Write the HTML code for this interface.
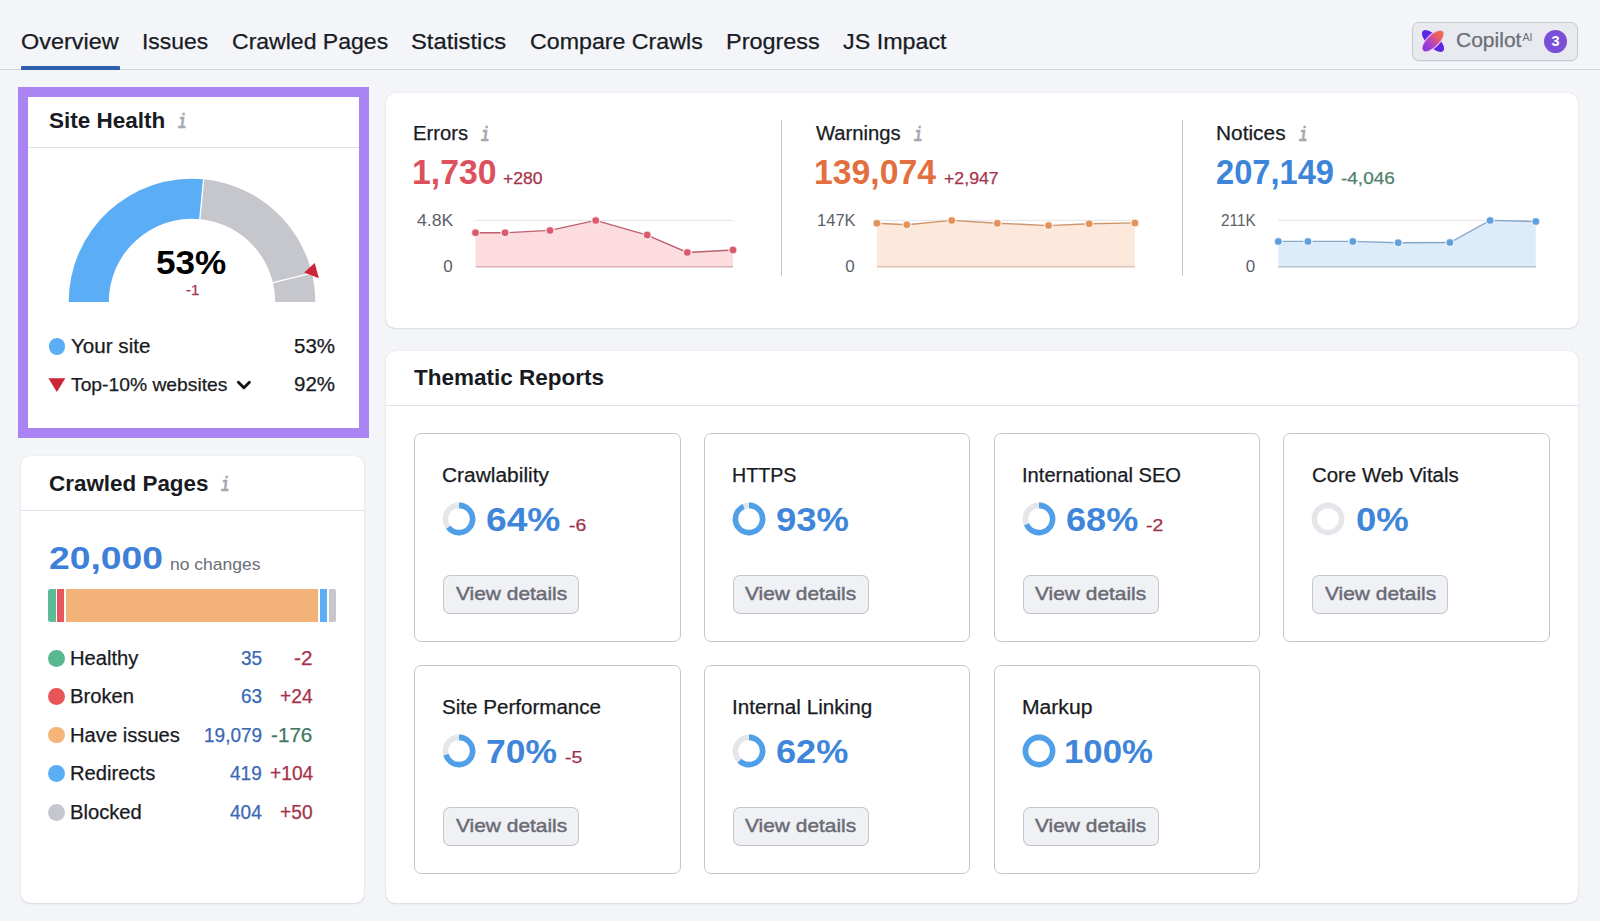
<!DOCTYPE html>
<html lang="en"><head><meta charset="utf-8"><title>Site Audit Overview</title>
<style>
html,body{margin:0;padding:0}
body{width:1600px;height:921px;overflow:hidden;position:relative;background:#f4f5f9;font-family:"Liberation Sans",sans-serif;}
.t{position:absolute;white-space:nowrap;line-height:1;transform-origin:0 50%;}
.s{-webkit-text-stroke:0.25px currentColor}.m{-webkit-text-stroke:0.45px currentColor}
.i{-webkit-text-stroke:0.5px currentColor}
.i{font-family:"Liberation Mono","DejaVu Sans Mono",monospace;font-style:italic;font-size:20px;color:#a6a8b0;font-weight:700;transform:scaleX(.7)}
.card{background:#fff;border-radius:9px;box-shadow:0 0 1px rgba(25,27,35,.18),0 1px 2px rgba(25,27,35,.10);}
</style></head><body>
<nav>
<span class="t s" style="top:31px;font-size:22.6px;color:#191b23;left:20.60px;transform:scaleX(1.0363);">Overview</span>
<span class="t s" style="top:31px;font-size:22.6px;color:#191b23;left:141.60px;transform:scaleX(1.0135);">Issues</span>
<span class="t s" style="top:31px;font-size:22.6px;color:#191b23;left:231.60px;transform:scaleX(1.0192);">Crawled Pages</span>
<span class="t s" style="top:31px;font-size:22.6px;color:#191b23;left:411.40px;transform:scaleX(1.0528);">Statistics</span>
<span class="t s" style="top:31px;font-size:22.6px;color:#191b23;left:530.00px;transform:scaleX(1.0268);">Compare Crawls</span>
<span class="t s" style="top:31px;font-size:22.6px;color:#191b23;left:725.80px;transform:scaleX(1.0372);">Progress</span>
<span class="t s" style="top:31px;font-size:22.6px;color:#191b23;left:843.00px;transform:scaleX(1.0311);">JS Impact</span>
<div class="" style="position:absolute;left:0.00px;top:69.10px;width:1600.00px;height:1.00px;background:#d1d3d9;"></div>
<div class="" style="position:absolute;left:20.80px;top:66.30px;width:99.20px;height:3.80px;background:#2d5fae;border-radius:1px 1px 0 0;"></div>
<div class="" style="position:absolute;left:1411.50px;top:22.00px;width:166.50px;height:38.50px;box-sizing:border-box;background:#e9eaef;border:1px solid #c6c9d1;border-radius:7px;box-shadow:0 1px 1px rgba(0,0,0,.05);"></div>
<svg style="position:absolute;left:1418.4px;top:26.1px" width="30" height="30" viewBox="-15 -15 30 30">
<defs><linearGradient id="cg" x1="0" y1="0" x2="1" y2="0"><stop offset="0" stop-color="#7a38e2"/><stop offset=".3" stop-color="#a33fd0"/><stop offset=".55" stop-color="#d04aa0"/><stop offset=".8" stop-color="#ee6450"/><stop offset="1" stop-color="#f06a4a"/></linearGradient></defs>
<ellipse rx="14.3" ry="6.1" transform="rotate(44.5)" fill="#5e27e6"/>
<ellipse rx="14.2" ry="6.7" transform="rotate(-44.5)" fill="#f3c4ee"/>
<ellipse rx="13.4" ry="5.7" transform="rotate(-44.5)" fill="url(#cg)"/>
</svg>
<span class="t s" style="top:30px;font-size:20px;color:#6c6e79;left:1455.60px;transform:scaleX(1.0505);">Copilot</span>
<span class="t " style="top:32px;font-size:10.5px;color:#6c6e79;left:1522.60px;">AI</span>
<div class="" style="position:absolute;left:1544.00px;top:29.80px;width:23.00px;height:23.00px;border-radius:50%;background:#7a4fd6;"></div>
<span class="t " style="top:34px;font-size:14.5px;color:#fff;font-weight:700;left:1551.57px;">3</span>
</nav>
<section>
<div class="" style="position:absolute;left:18.00px;top:87.20px;width:351.00px;height:350.40px;box-sizing:border-box;border:10px solid #ab84f4;background:#fff;"></div>
<span class="t " style="top:110px;font-size:22.5px;color:#191b23;font-weight:700;left:48.75px;transform:scaleX(1.0002);">Site Health</span>
<span class="t i" style="left:178.3px;top:113.00px">i</span>
<div class="" style="position:absolute;left:28.00px;top:146.60px;width:331.00px;height:1.00px;background:#e0e1e9;"></div>
<svg style="position:absolute;left:0;top:0" width="400" height="440" viewBox="0 0 400 440"><path d="M68.70 302.00A123.3 123.3 0 0 1 203.60 179.25L199.83 219.17A83.2 83.2 0 0 0 108.80 302.00Z" fill="#5baef5"/><path d="M203.60 179.25A123.3 123.3 0 0 1 315.30 302.00L275.20 302.00A83.2 83.2 0 0 0 199.83 219.17Z" fill="#c5c7cd"/><line x1="199.74" y1="220.16" x2="203.70" y2="178.25" stroke="#fff" stroke-width="1.3"/><line x1="271.93" y1="282.81" x2="312.87" y2="272.98" stroke="#fff" stroke-width="1.3"/><polygon points="304.2,272.6 314.7,262.9 318.9,278.2" fill="#cb2539"/><polygon points="48.4,378.2 65.3,378.2 56.85,392" fill="#cb2539"/><polyline points="238.4,382.2 243.9,387.7 249.4,382.2" fill="none" stroke="#111" stroke-width="2.9" stroke-linecap="round" stroke-linejoin="round"/></svg>
<span class="t " style="top:246px;font-size:33px;color:#000;font-weight:700;left:156.15px;transform:scaleX(1.0644);">53%</span>
<span class="t s" style="top:282px;font-size:15px;color:#a63349;left:185.93px;">-1</span>
<div class="" style="position:absolute;left:48.50px;top:338.40px;width:16.80px;height:16.80px;border-radius:50%;background:#5baef5;"></div>
<span class="t s" style="top:337px;font-size:19.5px;color:#191b23;left:71.20px;transform:scaleX(1.0564);">Your site</span>
<span class="t s" style="top:337px;font-size:19.5px;color:#191b23;left:293.80px;transform:scaleX(1.0505);">53%</span>
<span class="t s" style="top:375px;font-size:19px;color:#191b23;left:71.20px;transform:scaleX(1.0143);">Top-10% websites</span>
<span class="t s" style="top:375px;font-size:19.5px;color:#191b23;left:293.80px;transform:scaleX(1.0505);">92%</span>
</section>
<section>
<div class="card" style="position:absolute;left:21.00px;top:455.60px;width:342.50px;height:447.30px;"></div>
<span class="t " style="top:473px;font-size:22px;color:#191b23;font-weight:700;left:49.00px;transform:scaleX(1.0191);">Crawled Pages</span>
<span class="t i" style="left:220.8px;top:476.20px">i</span>
<div class="" style="position:absolute;left:21.00px;top:510.00px;width:342.50px;height:1.00px;background:#e0e1e9;"></div>
<span class="t " style="top:542px;font-size:32px;color:#3d80d8;font-weight:700;left:49.00px;transform:scaleX(1.1647);">20,000</span>
<span class="t " style="top:556px;font-size:17px;color:#6c6e79;left:170.00px;transform:scaleX(1.0307);">no changes</span>
<div class="" style="position:absolute;left:48.40px;top:589.00px;width:7.20px;height:33.00px;background:#5abc98;border-radius:2.5px 0 0 2.5px;"></div>
<div class="" style="position:absolute;left:57.40px;top:589.00px;width:6.50px;height:33.00px;background:#e6565c;"></div>
<div class="" style="position:absolute;left:65.80px;top:589.00px;width:252.50px;height:33.00px;background:#f3b378;"></div>
<div class="" style="position:absolute;left:320.30px;top:589.00px;width:6.80px;height:33.00px;background:#5baef5;"></div>
<div class="" style="position:absolute;left:328.90px;top:589.00px;width:7.00px;height:33.00px;background:#c5c7cd;border-radius:0 1.5px 1.5px 0;"></div>
<div class="" style="position:absolute;left:48.40px;top:650.00px;width:16.80px;height:16.80px;border-radius:50%;background:#58b890;"></div>
<span class="t s" style="top:649px;font-size:19.5px;color:#191b23;left:70.40px;transform:scaleX(1.0350);">Healthy</span>
<span class="t s" style="top:649px;font-size:19.5px;color:#3a68b4;left:240.75px;transform:scaleX(0.9750);">35</span>
<span class="t s" style="top:649px;font-size:19.5px;color:#a63349;left:294.42px;transform:scaleX(1.0600);">-2</span>
<div class="" style="position:absolute;left:48.40px;top:687.90px;width:16.80px;height:16.80px;border-radius:50%;background:#e85558;"></div>
<span class="t s" style="top:687px;font-size:19.5px;color:#191b23;left:70.40px;transform:scaleX(1.0350);">Broken</span>
<span class="t s" style="top:687px;font-size:19.5px;color:#3a68b4;left:240.75px;transform:scaleX(0.9750);">63</span>
<span class="t s" style="top:687px;font-size:19.5px;color:#a63349;left:280.22px;transform:scaleX(0.9850);">+24</span>
<div class="" style="position:absolute;left:48.40px;top:726.50px;width:16.80px;height:16.80px;border-radius:50%;background:#f5b478;"></div>
<span class="t s" style="top:726px;font-size:19.5px;color:#191b23;left:70.40px;transform:scaleX(1.0350);">Have issues</span>
<span class="t s" style="top:726px;font-size:19.5px;color:#3a68b4;left:203.75px;transform:scaleX(0.9750);">19,079</span>
<span class="t s" style="top:726px;font-size:19.5px;color:#41795f;left:271.43px;transform:scaleX(1.0600);">-176</span>
<div class="" style="position:absolute;left:48.40px;top:765.00px;width:16.80px;height:16.80px;border-radius:50%;background:#5baef5;"></div>
<span class="t s" style="top:764px;font-size:19.5px;color:#191b23;left:70.40px;transform:scaleX(1.0350);">Redirects</span>
<span class="t s" style="top:764px;font-size:19.5px;color:#3a68b4;left:230.18px;transform:scaleX(0.9750);">419</span>
<span class="t s" style="top:764px;font-size:19.5px;color:#a63349;left:269.54px;transform:scaleX(0.9850);">+104</span>
<div class="" style="position:absolute;left:48.40px;top:803.90px;width:16.80px;height:16.80px;border-radius:50%;background:#c5c7cd;"></div>
<span class="t s" style="top:803px;font-size:19.5px;color:#191b23;left:70.40px;transform:scaleX(1.0350);">Blocked</span>
<span class="t s" style="top:803px;font-size:19.5px;color:#3a68b4;left:230.18px;transform:scaleX(0.9750);">404</span>
<span class="t s" style="top:803px;font-size:19.5px;color:#a63349;left:280.22px;transform:scaleX(0.9850);">+50</span>
</section>
<section>
<div class="card" style="position:absolute;left:386.00px;top:93.30px;width:1192.00px;height:234.70px;"></div>
<div class="" style="position:absolute;left:781.00px;top:120.40px;width:1.00px;height:155.60px;background:#c4c7cf;"></div>
<div class="" style="position:absolute;left:1182.30px;top:120.40px;width:1.00px;height:155.60px;background:#c4c7cf;"></div>
<span class="t s" style="top:124px;font-size:19.6px;color:#191b23;left:413.30px;transform:scaleX(1.0308);">Errors</span>
<span class="t i" style="left:481.0px;top:125.60px">i</span>
<span class="t " style="top:154px;font-size:35px;color:#dd515c;font-weight:700;left:412.20px;transform:scaleX(0.9648);">1,730</span>
<span class="t s" style="top:170px;font-size:16.5px;color:#a63349;left:503.20px;transform:scaleX(1.0655);">+280</span>
<span class="t " style="top:212px;font-size:17px;color:#5d5f6a;left:416.70px;transform:scaleX(1.0409);">4.8K</span>
<span class="t " style="top:258px;font-size:17px;color:#5d5f6a;left:443.35px;">0</span>
<svg style="position:absolute;left:0;top:200px" width="1600" height="90" viewBox="0 200 1600 90"><line x1="475.5" y1="220.4" x2="733" y2="220.4" stroke="#e3e4ea" stroke-width="1"/><polygon points="475.5,266.8 475.5,232.8 505.1,232.8 550.0,230.4 595.7,220.4 647.2,235.1 687.3,252.5 733.0,250.0 733,266.8" fill="#fcdcde"/><line x1="475.5" y1="266.7" x2="733" y2="266.7" stroke="#d9b0b6" stroke-width="1.4"/><polyline points="475.5,232.8 505.1,232.8 550.0,230.4 595.7,220.4 647.2,235.1 687.3,252.5 733.0,250.0" fill="none" stroke="#bd5f6e" stroke-width="1.4"/><circle cx="475.5" cy="232.8" r="4" fill="#da5b6d" stroke="#fff" stroke-opacity=".7" stroke-width="1.5"/><circle cx="505.1" cy="232.8" r="4" fill="#da5b6d" stroke="#fff" stroke-opacity=".7" stroke-width="1.5"/><circle cx="550" cy="230.4" r="4" fill="#da5b6d" stroke="#fff" stroke-opacity=".7" stroke-width="1.5"/><circle cx="595.7" cy="220.4" r="4" fill="#da5b6d" stroke="#fff" stroke-opacity=".7" stroke-width="1.5"/><circle cx="647.2" cy="235.1" r="4" fill="#da5b6d" stroke="#fff" stroke-opacity=".7" stroke-width="1.5"/><circle cx="687.3" cy="252.5" r="4" fill="#da5b6d" stroke="#fff" stroke-opacity=".7" stroke-width="1.5"/><circle cx="733" cy="250" r="4" fill="#da5b6d" stroke="#fff" stroke-opacity=".7" stroke-width="1.5"/></svg>
<span class="t s" style="top:124px;font-size:19.6px;color:#191b23;left:815.60px;transform:scaleX(1.0310);">Warnings</span>
<span class="t i" style="left:913.5px;top:125.60px">i</span>
<span class="t " style="top:154px;font-size:35px;color:#e2703f;font-weight:700;left:813.90px;transform:scaleX(0.9643);">139,074</span>
<span class="t s" style="top:170px;font-size:16.5px;color:#a63349;left:944.10px;transform:scaleX(1.0741);">+2,947</span>
<span class="t " style="top:212px;font-size:17px;color:#5d5f6a;left:816.50px;transform:scaleX(0.9722);">147K</span>
<span class="t " style="top:258px;font-size:17px;color:#5d5f6a;left:845.35px;">0</span>
<svg style="position:absolute;left:0;top:200px" width="1600" height="90" viewBox="0 200 1600 90"><line x1="876.9" y1="220.4" x2="1134.9" y2="220.4" stroke="#e3e4ea" stroke-width="1"/><polygon points="876.9,266.8 876.9,223.2 906.8,224.8 951.7,220.4 997.3,223.2 1048.6,225.6 1089.2,223.7 1134.9,222.9 1134.9,266.8" fill="#fde8dc"/><line x1="876.9" y1="266.7" x2="1134.9" y2="266.7" stroke="#dcc3b3" stroke-width="1.4"/><polyline points="876.9,223.2 906.8,224.8 951.7,220.4 997.3,223.2 1048.6,225.6 1089.2,223.7 1134.9,222.9" fill="none" stroke="#cf9468" stroke-width="1.4"/><circle cx="876.9" cy="223.2" r="4" fill="#e2935a" stroke="#fff" stroke-opacity=".7" stroke-width="1.5"/><circle cx="906.8" cy="224.8" r="4" fill="#e2935a" stroke="#fff" stroke-opacity=".7" stroke-width="1.5"/><circle cx="951.7" cy="220.4" r="4" fill="#e2935a" stroke="#fff" stroke-opacity=".7" stroke-width="1.5"/><circle cx="997.3" cy="223.2" r="4" fill="#e2935a" stroke="#fff" stroke-opacity=".7" stroke-width="1.5"/><circle cx="1048.6" cy="225.6" r="4" fill="#e2935a" stroke="#fff" stroke-opacity=".7" stroke-width="1.5"/><circle cx="1089.2" cy="223.7" r="4" fill="#e2935a" stroke="#fff" stroke-opacity=".7" stroke-width="1.5"/><circle cx="1134.9" cy="222.9" r="4" fill="#e2935a" stroke="#fff" stroke-opacity=".7" stroke-width="1.5"/></svg>
<span class="t s" style="top:124px;font-size:19.6px;color:#191b23;left:1216.00px;transform:scaleX(1.0649);">Notices</span>
<span class="t i" style="left:1299.2px;top:125.60px">i</span>
<span class="t " style="top:154px;font-size:35px;color:#3d85d9;font-weight:700;left:1216.20px;transform:scaleX(0.9327);">207,149</span>
<span class="t s" style="top:170px;font-size:16.5px;color:#4f7f6b;left:1341.20px;transform:scaleX(1.1499);">-4,046</span>
<span class="t " style="top:212px;font-size:17px;color:#5d5f6a;left:1221.00px;transform:scaleX(0.9001);">211K</span>
<span class="t " style="top:258px;font-size:17px;color:#5d5f6a;left:1245.85px;">0</span>
<svg style="position:absolute;left:0;top:200px" width="1600" height="90" viewBox="0 200 1600 90"><line x1="1278.3" y1="220.4" x2="1535.8" y2="220.4" stroke="#e3e4ea" stroke-width="1"/><polygon points="1278.3,266.8 1278.3,241.4 1307.9,241.4 1352.8,241.4 1398.2,242.8 1449.9,242.5 1490.1,220.4 1535.8,221.5 1535.8,266.8" fill="#dcecfb"/><line x1="1278.3" y1="266.7" x2="1535.8" y2="266.7" stroke="#b4c3d1" stroke-width="1.4"/><polyline points="1278.3,241.4 1307.9,241.4 1352.8,241.4 1398.2,242.8 1449.9,242.5 1490.1,220.4 1535.8,221.5" fill="none" stroke="#86a8c6" stroke-width="1.4"/><circle cx="1278.3" cy="241.4" r="4" fill="#5f9fdc" stroke="#fff" stroke-opacity=".7" stroke-width="1.5"/><circle cx="1307.9" cy="241.4" r="4" fill="#5f9fdc" stroke="#fff" stroke-opacity=".7" stroke-width="1.5"/><circle cx="1352.8" cy="241.4" r="4" fill="#5f9fdc" stroke="#fff" stroke-opacity=".7" stroke-width="1.5"/><circle cx="1398.2" cy="242.8" r="4" fill="#5f9fdc" stroke="#fff" stroke-opacity=".7" stroke-width="1.5"/><circle cx="1449.9" cy="242.5" r="4" fill="#5f9fdc" stroke="#fff" stroke-opacity=".7" stroke-width="1.5"/><circle cx="1490.1" cy="220.4" r="4" fill="#5f9fdc" stroke="#fff" stroke-opacity=".7" stroke-width="1.5"/><circle cx="1535.8" cy="221.5" r="4" fill="#5f9fdc" stroke="#fff" stroke-opacity=".7" stroke-width="1.5"/></svg>
</section>
<section>
<div class="card" style="position:absolute;left:385.70px;top:350.70px;width:1192.30px;height:552.00px;"></div>
<span class="t " style="top:367px;font-size:22px;color:#191b23;font-weight:700;left:414.30px;transform:scaleX(1.0225);">Thematic Reports</span>
<div class="" style="position:absolute;left:385.70px;top:404.50px;width:1192.30px;height:1.00px;background:#e0e1e9;"></div>
<div class="" style="position:absolute;left:414.10px;top:433.30px;width:266.60px;height:208.90px;box-sizing:border-box;border:1px solid #c4c7cf;border-radius:7px;background:#fff;"></div>
<span class="t s" style="top:466px;font-size:19.6px;color:#191b23;left:442.30px;transform:scaleX(1.0678);">Crawlability</span>
<svg style="position:absolute;left:442.10px;top:502.20px" width="34" height="34" viewBox="-17 -17 34 34"><circle r="13.6" fill="none" stroke="#e5e6ea" stroke-width="5.6"/><circle r="13.6" fill="none" stroke="#4f9fe9" stroke-width="5.6" stroke-dasharray="54.69 85.45" transform="rotate(-90)"/></svg>
<span class="t " style="top:502px;font-size:34px;color:#3f86da;font-weight:700;left:486.30px;transform:scaleX(1.0933);">64%</span>
<span class="t s" style="top:517px;font-size:16.5px;color:#a0304a;left:568.80px;transform:scaleX(1.1724);">-6</span>
<div class="" style="position:absolute;left:443.00px;top:575.20px;width:136.10px;height:39.20px;box-sizing:border-box;background:#f0f1f4;border:1px solid #c5c7ce;border-bottom-color:#bfc1c8;border-radius:7px;"></div>
<span class="t m" style="top:584px;font-size:19px;color:#696b75;left:455.50px;transform:scaleX(1.1006);">View details</span>
<div class="" style="position:absolute;left:703.85px;top:433.30px;width:266.60px;height:208.90px;box-sizing:border-box;border:1px solid #c4c7cf;border-radius:7px;background:#fff;"></div>
<span class="t s" style="top:466px;font-size:19.6px;color:#191b23;left:732.05px;transform:scaleX(1.0024);">HTTPS</span>
<svg style="position:absolute;left:731.85px;top:502.20px" width="34" height="34" viewBox="-17 -17 34 34"><circle r="13.6" fill="none" stroke="#e5e6ea" stroke-width="5.6"/><circle r="13.6" fill="none" stroke="#4f9fe9" stroke-width="5.6" stroke-dasharray="79.47 85.45" transform="rotate(-90)"/></svg>
<span class="t " style="top:502px;font-size:34px;color:#3f86da;font-weight:700;left:776.05px;transform:scaleX(1.0727);">93%</span>
<div class="" style="position:absolute;left:732.75px;top:575.20px;width:136.10px;height:39.20px;box-sizing:border-box;background:#f0f1f4;border:1px solid #c5c7ce;border-bottom-color:#bfc1c8;border-radius:7px;"></div>
<span class="t m" style="top:584px;font-size:19px;color:#696b75;left:745.25px;transform:scaleX(1.1006);">View details</span>
<div class="" style="position:absolute;left:993.60px;top:433.30px;width:266.60px;height:208.90px;box-sizing:border-box;border:1px solid #c4c7cf;border-radius:7px;background:#fff;"></div>
<span class="t s" style="top:466px;font-size:19.6px;color:#191b23;left:1021.80px;transform:scaleX(1.0283);">International SEO</span>
<svg style="position:absolute;left:1021.60px;top:502.20px" width="34" height="34" viewBox="-17 -17 34 34"><circle r="13.6" fill="none" stroke="#e5e6ea" stroke-width="5.6"/><circle r="13.6" fill="none" stroke="#4f9fe9" stroke-width="5.6" stroke-dasharray="58.11 85.45" transform="rotate(-90)"/></svg>
<span class="t " style="top:502px;font-size:34px;color:#3f86da;font-weight:700;left:1065.80px;transform:scaleX(1.0625);">68%</span>
<span class="t s" style="top:517px;font-size:16.5px;color:#a0304a;left:1146.20px;transform:scaleX(1.1724);">-2</span>
<div class="" style="position:absolute;left:1022.50px;top:575.20px;width:136.10px;height:39.20px;box-sizing:border-box;background:#f0f1f4;border:1px solid #c5c7ce;border-bottom-color:#bfc1c8;border-radius:7px;"></div>
<span class="t m" style="top:584px;font-size:19px;color:#696b75;left:1035.00px;transform:scaleX(1.1006);">View details</span>
<div class="" style="position:absolute;left:1283.35px;top:433.30px;width:266.60px;height:208.90px;box-sizing:border-box;border:1px solid #c4c7cf;border-radius:7px;background:#fff;"></div>
<span class="t s" style="top:466px;font-size:19.6px;color:#191b23;left:1311.55px;transform:scaleX(1.0412);">Core Web Vitals</span>
<svg style="position:absolute;left:1311.35px;top:502.20px" width="34" height="34" viewBox="-17 -17 34 34"><circle r="13.6" fill="none" stroke="#e5e6ea" stroke-width="5.6"/></svg>
<span class="t " style="top:502px;font-size:34px;color:#3f86da;font-weight:700;left:1355.55px;transform:scaleX(1.0745);">0%</span>
<div class="" style="position:absolute;left:1312.25px;top:575.20px;width:136.10px;height:39.20px;box-sizing:border-box;background:#f0f1f4;border:1px solid #c5c7ce;border-bottom-color:#bfc1c8;border-radius:7px;"></div>
<span class="t m" style="top:584px;font-size:19px;color:#696b75;left:1324.75px;transform:scaleX(1.1006);">View details</span>
<div class="" style="position:absolute;left:414.10px;top:665.20px;width:266.60px;height:208.90px;box-sizing:border-box;border:1px solid #c4c7cf;border-radius:7px;background:#fff;"></div>
<span class="t s" style="top:698px;font-size:19.6px;color:#191b23;left:442.30px;transform:scaleX(1.0507);">Site Performance</span>
<svg style="position:absolute;left:442.10px;top:734.10px" width="34" height="34" viewBox="-17 -17 34 34"><circle r="13.6" fill="none" stroke="#e5e6ea" stroke-width="5.6"/><circle r="13.6" fill="none" stroke="#4f9fe9" stroke-width="5.6" stroke-dasharray="59.82 85.45" transform="rotate(-90)"/></svg>
<span class="t " style="top:734px;font-size:34px;color:#3f86da;font-weight:700;left:486.30px;transform:scaleX(1.0419);">70%</span>
<span class="t s" style="top:749px;font-size:16.5px;color:#a0304a;left:565.30px;transform:scaleX(1.1724);">-5</span>
<div class="" style="position:absolute;left:443.00px;top:807.10px;width:136.10px;height:39.20px;box-sizing:border-box;background:#f0f1f4;border:1px solid #c5c7ce;border-bottom-color:#bfc1c8;border-radius:7px;"></div>
<span class="t m" style="top:816px;font-size:19px;color:#696b75;left:455.50px;transform:scaleX(1.1006);">View details</span>
<div class="" style="position:absolute;left:703.85px;top:665.20px;width:266.60px;height:208.90px;box-sizing:border-box;border:1px solid #c4c7cf;border-radius:7px;background:#fff;"></div>
<span class="t s" style="top:698px;font-size:19.6px;color:#191b23;left:732.05px;transform:scaleX(1.0547);">Internal Linking</span>
<svg style="position:absolute;left:731.85px;top:734.10px" width="34" height="34" viewBox="-17 -17 34 34"><circle r="13.6" fill="none" stroke="#e5e6ea" stroke-width="5.6"/><circle r="13.6" fill="none" stroke="#4f9fe9" stroke-width="5.6" stroke-dasharray="52.98 85.45" transform="rotate(-90)"/></svg>
<span class="t " style="top:734px;font-size:34px;color:#3f86da;font-weight:700;left:776.05px;transform:scaleX(1.0625);">62%</span>
<div class="" style="position:absolute;left:732.75px;top:807.10px;width:136.10px;height:39.20px;box-sizing:border-box;background:#f0f1f4;border:1px solid #c5c7ce;border-bottom-color:#bfc1c8;border-radius:7px;"></div>
<span class="t m" style="top:816px;font-size:19px;color:#696b75;left:745.25px;transform:scaleX(1.1006);">View details</span>
<div class="" style="position:absolute;left:993.60px;top:665.20px;width:266.60px;height:208.90px;box-sizing:border-box;border:1px solid #c4c7cf;border-radius:7px;background:#fff;"></div>
<span class="t s" style="top:698px;font-size:19.6px;color:#191b23;left:1021.80px;transform:scaleX(1.0772);">Markup</span>
<svg style="position:absolute;left:1021.60px;top:734.10px" width="34" height="34" viewBox="-17 -17 34 34"><circle r="13.6" fill="none" stroke="#e5e6ea" stroke-width="5.6"/><circle r="13.6" fill="none" stroke="#4f9fe9" stroke-width="5.6" stroke-dasharray="85.45 85.45" transform="rotate(-90)"/></svg>
<span class="t " style="top:734px;font-size:34px;color:#3f86da;font-weight:700;left:1064.20px;transform:scaleX(1.0223);">100%</span>
<div class="" style="position:absolute;left:1022.50px;top:807.10px;width:136.10px;height:39.20px;box-sizing:border-box;background:#f0f1f4;border:1px solid #c5c7ce;border-bottom-color:#bfc1c8;border-radius:7px;"></div>
<span class="t m" style="top:816px;font-size:19px;color:#696b75;left:1035.00px;transform:scaleX(1.1006);">View details</span>
</section>
</body></html>
